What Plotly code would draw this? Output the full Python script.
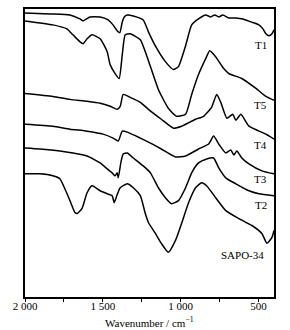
import plotly.graph_objects as go

# Wavenumber (cm^-1) and relative transmittance (a.u., stacked)
t1_wn = [2000, 1840, 1711, 1647, 1627, 1582, 1517, 1466, 1434, 1408, 1391, 1375, 1362, 1343, 1304, 1240,
         1207, 1156, 1098, 1046, 1014, 968, 929, 885, 839, 807, 781, 755, 729, 690, 645, 600, 549, 497,
         471, 452, 432, 413, 400]
t1_y = [289, 288, 287, 283, 281, 285, 285, 282, 277, 271, 269, 280, 285, 287, 286, 282,
        270, 254, 240, 232, 235, 256, 277, 283, 287, 285, 287, 285, 287, 284, 284, 283, 280, 277,
        273, 268, 266, 268, 272]

t5_wn = [2000, 1821, 1731, 1692, 1647, 1627, 1601, 1569, 1517, 1472, 1453, 1421, 1395, 1375, 1356,
         1324, 1259, 1227, 1194, 1143, 1079, 1027, 968, 929, 885, 839, 813, 775, 723, 690, 607, 516,
         452, 400]
t5_y = [281, 277, 273, 267, 260, 258, 263, 267, 263, 250, 237, 228, 223, 247, 267,
        268, 262, 250, 235, 212, 193, 185, 187, 207, 227, 243, 251, 245, 233, 228, 223, 213,
        205, 201]

t4_wn = [2000, 1821, 1711, 1601, 1517, 1453, 1408, 1388, 1369, 1324, 1259, 1207, 1124, 1046, 994,
         904, 852, 801, 768, 742, 703, 665, 645, 613, 561, 452, 400]
t4_y = [208, 205, 202, 200, 198, 195, 192, 195, 207, 204, 199, 192, 182, 173, 175,
        182, 185, 194, 207, 199, 183, 187, 181, 187, 175, 167, 162]

t3_wn = [2000, 1821, 1711, 1601, 1498, 1434, 1401, 1375, 1343, 1259, 1194, 1124, 1033, 968, 885,
         820, 788, 755, 710, 678, 658, 639, 607, 561, 478, 400]
t3_y = [177, 175, 172, 170, 167, 163, 160, 170, 169, 163, 158, 152, 144, 145, 152,
        157, 165, 157, 148, 151, 146, 150, 143, 137, 130, 127]

t2_wn = [2000, 1905, 1776, 1692, 1601, 1517, 1472, 1440, 1421, 1408, 1401, 1382, 1369, 1343, 1304,
         1240, 1194, 1143, 1098, 1059, 1014, 968, 929, 885, 833, 788, 755, 710, 645, 561, 497, 400]
t2_y = [153, 152, 150, 148, 145, 138, 132, 128, 125, 128, 123, 140, 147, 148, 143,
        135, 128, 113, 103, 97, 100, 113, 128, 138, 142, 143, 133, 123, 117, 110, 107, 105]

sapo_wn = [2000, 1905, 1821, 1776, 1744, 1711, 1679, 1666, 1634, 1601, 1569, 1517, 1472, 1440,
           1427, 1408, 1388, 1343, 1304, 1259, 1227, 1207, 1162, 1124, 1079, 1033, 994, 949, 904,
           865, 833, 775, 710, 626, 542, 478, 445, 413, 400]
sapo_y = [127, 127, 125, 122, 112, 100, 88, 87, 92, 108, 115, 110, 107, 105,
          98, 106, 113, 117, 113, 105, 87, 78, 67, 57, 48, 60, 77, 98, 113,
          118, 115, 103, 90, 82, 75, 67, 57, 63, 70]

series = [
    ("T1", t1_wn, t1_y),
    ("T5", t5_wn, t5_y),
    ("T4", t4_wn, t4_y),
    ("T3", t3_wn, t3_y),
    ("T2", t2_wn, t2_y),
    ("SAPO-34", sapo_wn, sapo_y),
]

# label anchor positions (wavenumber, y)
labels = [("T1", 485, 257), ("T5", 485, 196), ("T4", 485, 156), ("T3", 485, 122),
          ("T2", 485, 96), ("SAPO-34", 600, 45)]

tick_vals = [2000, 1500, 1000, 500]
tick_text = ["2 000", "1 500", "1 000", "500"]

FONT = "Liberation Serif, Times New Roman, serif"

fig = go.Figure()
for name, wn, y in series:
    fig.add_trace(go.Scatter(x=wn, y=y, mode="lines", name=name,
                             line=dict(color="black", width=1.5, shape="spline", smoothing=0.5),
                             showlegend=False, hoverinfo="skip"))

for text, wx, wy in labels:
    fig.add_annotation(x=wx, y=wy, text=text, showarrow=False, xref="x", yref="y",
                       font=dict(family=FONT, size=11, color="black"))

fig.add_annotation(x=0.5, y=-0.086, xref="paper", yref="paper", text="Wavenumber / cm<sup>−1</sup>",
                   showarrow=False, yanchor="middle", font=dict(family=FONT, size=11, color="black"))

fig.update_layout(
    width=290, height=330,
    margin=dict(l=25, r=16, t=7, b=33),
    paper_bgcolor="white", plot_bgcolor="white",
    font=dict(family=FONT, size=11, color="black"),
    xaxis=dict(range=[2000, 400], tickvals=tick_vals, ticktext=tick_text,
               ticks="outside", ticklen=3, tickwidth=1, tickcolor="black",
               ticklabelstandoff=-5,
               minor=dict(tickvals=[1750, 1250, 750], ticks="outside", ticklen=3, tickcolor="black"),
               showline=True, linecolor="black", linewidth=1.5, mirror=True,
               showgrid=False, zeroline=False,
               tickfont=dict(family=FONT, size=11, color="black")),
    yaxis=dict(range=[3, 293], showticklabels=False, ticks="",
               showline=True, linecolor="black", linewidth=1.5, mirror=True,
               showgrid=False, zeroline=False),
)

fig.write_html("out.html", config={"displayModeBar": False},
               post_script="document.body.style.margin='0';document.body.style.padding='0';")
